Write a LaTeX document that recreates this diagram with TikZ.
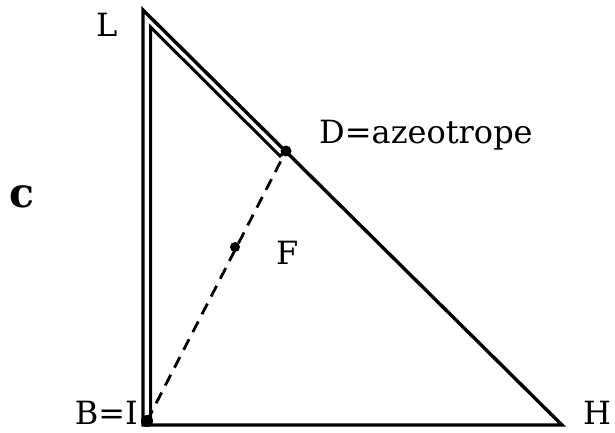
\documentclass[tikz,border=0pt]{standalone}
\usepackage{fontspec}
\setmainfont{DejaVu Serif}
\begin{document}
\begin{tikzpicture}[x=1pt,y=-1pt,
  edge/.style={line width=3.4pt, line join=miter},
  inner/.style={line width=3pt},
  dashline/.style={line width=2.8pt, dash pattern=on 12pt off 8pt},
  pt/.style={circle, fill=black, inner sep=0pt, minimum size=#1},
  lab/.style={font=\fontsize{32}{32}\selectfont, inner sep=0pt}]
\useasboundingbox (0,0) rectangle (615,433);
% vertices
\coordinate (L) at (143,10);
\coordinate (C) at (143,425);
\coordinate (H) at (562,425);
\coordinate (Li) at (150.5,27);
\coordinate (Ci) at (150.5,421);
\coordinate (Di) at (280,156);
\node[pt=11pt] (D) at (286,151) {};
\node[pt=12pt] (B) at (147,421) {};
\node[pt=10pt] (F) at (235,247) {};
% outer triangle
\draw[edge] (L) -- (C) -- (H) -- cycle;
% inner double line (L-B and L-D)
\draw[inner] (Ci) -- (Li) -- (Di) -- (D.center);
% dashed B--D
\draw[dashline] (B.center) -- (D.center);
% labels
\node[lab, anchor=base west] (tL) at (96,37) {L};
\node[lab, anchor=base west] (tD) at (319,143) {D=azeotrope};
\node[lab, anchor=base west] (tF) at (276,264) {F};
\node[lab, anchor=base east] (tB) at (138,424) {B=I};
\node[lab, anchor=base west] (tH) at (583,424) {H};
\node[font=\bfseries\fontsize{41}{41}\selectfont, inner sep=0pt, anchor=base west] (tc) at (9,207) {c};
\end{tikzpicture}
\end{document}
